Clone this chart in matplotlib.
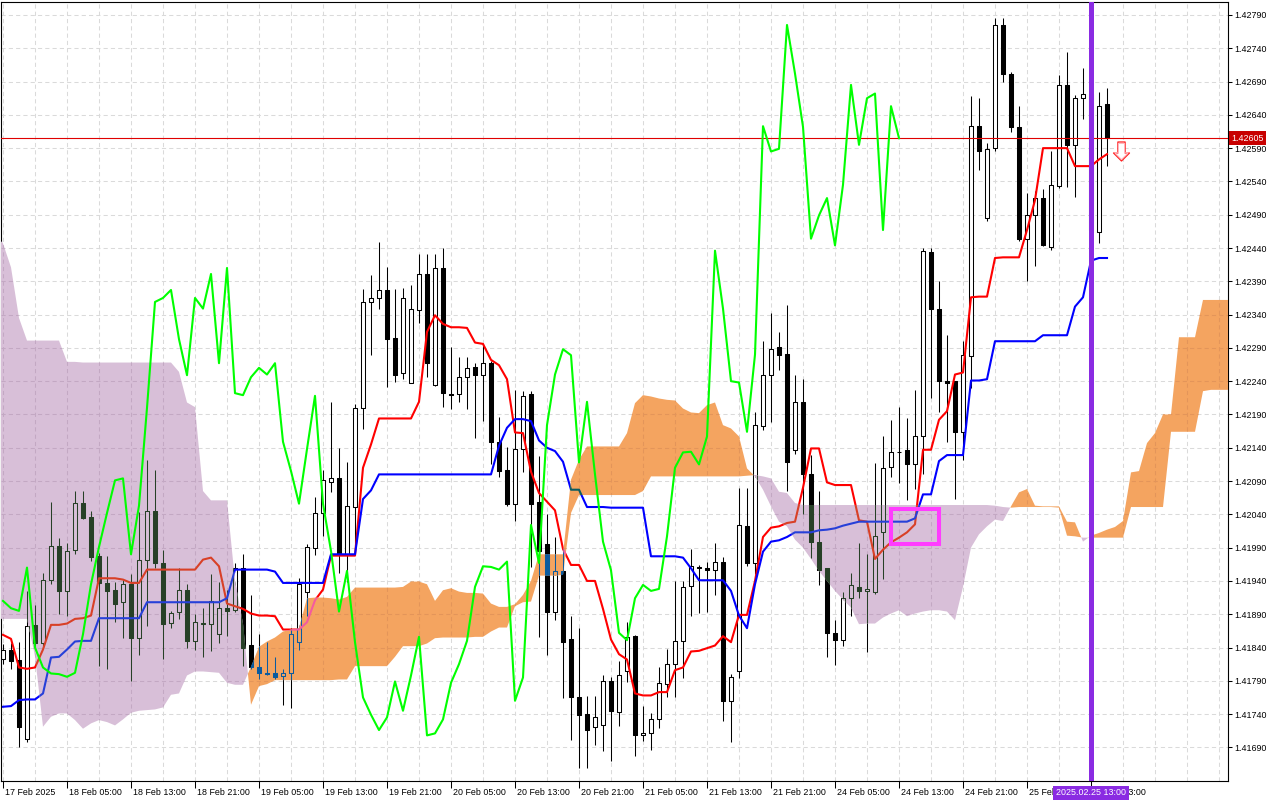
import numpy as np
import matplotlib
matplotlib.use('Agg')
import matplotlib.pyplot as plt
from matplotlib.collections import LineCollection, PolyCollection
from matplotlib.path import Path
from matplotlib.patches import Rectangle

plt.rcParams['font.family'] = ['Liberation Sans', 'DejaVu Sans']

# H1 candles, bar 0 = 17 Feb 21:00
opens = [
    1.41822, 1.41837, 1.41821, 1.41703, 1.41874, 1.41847, 1.41942, 1.41993, 1.41925, 1.41986,
    1.42057, 1.42036, 1.41977, 1.41937, 1.41926, 1.41908, 1.41935, 1.41855, 1.41972, 1.42045,
    1.41967, 1.41877, 1.41893, 1.41926, 1.41850, 1.41876, 1.41876, 1.41861, 1.41899, 1.41896,
    1.41959, 1.41844, 1.41811, 1.41801, 1.41802, 1.41797, 1.41801, 1.41848, 1.41924, 1.41990,
    1.42042, 1.42089, 1.42094, 1.41980, 1.42051, 1.42200, 1.42359, 1.42365, 1.42377, 1.42305,
    1.42252, 1.42237, 1.42347, 1.42401, 1.42235, 1.42410, 1.42220, 1.42220, 1.42246, 1.42262,
    1.42250, 1.42267, 1.42148, 1.42106, 1.42056, 1.42138, 1.42220, 1.42059, 1.41996, 1.41893,
    1.41955, 1.41853, 1.41765, 1.41740, 1.41720, 1.41723, 1.41789, 1.41743, 1.41804, 1.41857,
    1.41708, 1.41711, 1.41732, 1.41785, 1.41815, 1.41850, 1.41932, 1.41960, 1.41959, 1.41957,
    1.41969, 1.41760, 1.41804, 1.42022, 1.41967, 1.42172, 1.42250, 1.42291, 1.42281, 1.42136,
    1.42209, 1.42100, 1.41999, 1.41959, 1.41862, 1.41851, 1.41915, 1.41931, 1.41925, 1.41924,
    1.42013, 1.42111, 1.42133, 1.42136, 1.42115, 1.42157, 1.42434, 1.42348, 1.42240, 1.42240,
    1.42164, 1.42278, 1.42623, 1.42485, 1.42590, 1.42775, 1.42702, 1.42622, 1.42454, 1.42489,
    1.42515, 1.42442, 1.42533, 1.42685, 1.42595, 1.42665, 1.42672, 1.42464, 1.42656]
highs = [
    1.41845, 1.41847, 1.41848, 1.41925, 1.41904, 1.41952, 1.42058, 1.42004, 1.41997, 1.42075,
    1.42075, 1.42045, 1.41982, 1.41977, 1.41939, 1.41942, 1.41950, 1.42043, 1.42122, 1.42107,
    1.41986, 1.41895, 1.41959, 1.41935, 1.41890, 1.41899, 1.41950, 1.41939, 1.41926, 1.41967,
    1.41981, 1.41919, 1.41860, 1.41849, 1.41825, 1.41807, 1.41870, 1.41945, 1.41995, 1.42066,
    1.42106, 1.42208, 1.42140, 1.42119, 1.42206, 1.42378, 1.42400, 1.42449, 1.42411, 1.42379,
    1.42380, 1.42384, 1.42431, 1.42431, 1.42431, 1.42440, 1.42291, 1.42276, 1.42276, 1.42267,
    1.42296, 1.42270, 1.42186, 1.42141, 1.42227, 1.42226, 1.42225, 1.42127, 1.42040, 1.42006,
    1.41990, 1.41888, 1.41870, 1.41767, 1.41767, 1.41798, 1.41795, 1.41819, 1.41878, 1.41859,
    1.41752, 1.41741, 1.41810, 1.41838, 1.41940, 1.41940, 1.41988, 1.41964, 1.41969, 1.41997,
    1.41976, 1.41800, 1.42080, 1.42080, 1.42193, 1.42300, 1.42343, 1.42314, 1.42354, 1.42249,
    1.42243, 1.42129, 1.42075, 1.41959, 1.41882, 1.41924, 1.41952, 1.41997, 1.41981, 1.42117,
    1.42158, 1.42182, 1.42201, 1.42185, 1.42227, 1.42440, 1.42440, 1.42391, 1.42310, 1.42240,
    1.42301, 1.42669, 1.42666, 1.42598, 1.42785, 1.42785, 1.42705, 1.42653, 1.42523, 1.42525,
    1.42529, 1.42585, 1.42700, 1.42735, 1.42670, 1.42711, 1.42680, 1.42674, 1.42681]
lows = [
    1.41815, 1.41807, 1.41690, 1.41698, 1.41840, 1.41840, 1.41935, 1.41891, 1.41888, 1.41981,
    1.42033, 1.41970, 1.41812, 1.41807, 1.41878, 1.41855, 1.41789, 1.41828, 1.41873, 1.41960,
    1.41822, 1.41870, 1.41883, 1.41840, 1.41837, 1.41825, 1.41835, 1.41847, 1.41858, 1.41893,
    1.41812, 1.41807, 1.41792, 1.41798, 1.41792, 1.41754, 1.41749, 1.41837, 1.41888, 1.41979,
    1.42008, 1.42074, 1.41952, 1.41939, 1.41987, 1.42168, 1.42279, 1.42348, 1.42231, 1.42239,
    1.42244, 1.42237, 1.42328, 1.42247, 1.42233, 1.42201, 1.42198, 1.42208, 1.42198, 1.42154,
    1.42180, 1.42115, 1.42096, 1.42052, 1.42030, 1.42104, 1.41961, 1.41856, 1.41829, 1.41882,
    1.41764, 1.41701, 1.41659, 1.41659, 1.41693, 1.41685, 1.41669, 1.41722, 1.41788, 1.41677,
    1.41699, 1.41686, 1.41719, 1.41765, 1.41765, 1.41794, 1.41887, 1.41892, 1.41894, 1.41919,
    1.41730, 1.41698, 1.41794, 1.41962, 1.41951, 1.42166, 1.42178, 1.42257, 1.42075, 1.42130,
    1.42040, 1.41975, 1.41934, 1.41826, 1.41814, 1.41843, 1.41888, 1.41914, 1.41833, 1.41920,
    1.41943, 1.42096, 1.42087, 1.42062, 1.42078, 1.42100, 1.42215, 1.42193, 1.42148, 1.42063,
    1.42121, 1.42230, 1.42557, 1.42480, 1.42585, 1.42690, 1.42615, 1.42450, 1.42391, 1.42413,
    1.42443, 1.42437, 1.42530, 1.42531, 1.42516, 1.42634, 1.42445, 1.42447, 1.42563]
closes = [
    1.41837, 1.41820, 1.41720, 1.41872, 1.41847, 1.41942, 1.41993, 1.41925, 1.41985, 1.42057,
    1.42035, 1.41976, 1.41937, 1.41925, 1.41906, 1.41935, 1.41854, 1.41972, 1.42045, 1.41967,
    1.41876, 1.41892, 1.41926, 1.41850, 1.41878, 1.41877, 1.41910, 1.41899, 1.41895, 1.41960,
    1.41840, 1.41810, 1.41801, 1.41800, 1.41796, 1.41802, 1.41860, 1.41935, 1.41991, 1.42042,
    1.42091, 1.42094, 1.41980, 1.42053, 1.42200, 1.42359, 1.42365, 1.42377, 1.42303, 1.42249,
    1.42365, 1.42349, 1.42401, 1.42267, 1.42410, 1.42222, 1.42219, 1.42246, 1.42260, 1.42250,
    1.42267, 1.42149, 1.42105, 1.42056, 1.42138, 1.42218, 1.42056, 1.41985, 1.41894, 1.41955,
    1.41848, 1.41765, 1.41739, 1.41716, 1.41735, 1.41789, 1.41745, 1.41798, 1.41856, 1.41708,
    1.41711, 1.41732, 1.41787, 1.41815, 1.41850, 1.41931, 1.41962, 1.41961, 1.41957, 1.41969,
    1.41760, 1.41795, 1.42024, 1.41967, 1.42174, 1.42250, 1.42288, 1.42279, 1.42118, 1.42209,
    1.42100, 1.41999, 1.41956, 1.41862, 1.41851, 1.41914, 1.41934, 1.41925, 1.41928, 1.42007,
    1.42110, 1.42133, 1.42134, 1.42115, 1.42157, 1.42436, 1.42349, 1.42240, 1.42238, 1.42164,
    1.42280, 1.42623, 1.42585, 1.42589, 1.42775, 1.42702, 1.42622, 1.42454, 1.42489, 1.42515,
    1.42444, 1.42535, 1.42685, 1.42595, 1.42665, 1.42672, 1.42467, 1.42653, 1.42605]

tenkan = [
    1.41859, 1.41853, 1.41810, 1.41808, 1.41810, 1.41837, 1.41874, 1.41874, 1.41876, 1.41883,
    1.41884, 1.41888, 1.41944, 1.41944, 1.41944, 1.41942, 1.41937, 1.41937, 1.41957, 1.41957,
    1.41957, 1.41957, 1.41957, 1.41957, 1.41957, 1.41972, 1.41975, 1.41962, 1.41906, 1.41902,
    1.41898, 1.41891, 1.41888, 1.41888, 1.41887, 1.41867, 1.41867, 1.41867, 1.41878, 1.41911,
    1.41927, 1.41978, 1.41978, 1.41978, 1.41978, 1.42110, 1.42145, 1.42184, 1.42184, 1.42184,
    1.42184, 1.42184, 1.42209, 1.42314, 1.42339, 1.42326, 1.42321, 1.42321, 1.42320, 1.42298,
    1.42296, 1.42272, 1.42264, 1.42243, 1.42163, 1.42162, 1.42104, 1.42072, 1.42059, 1.42046,
    1.41988, 1.41964, 1.41964, 1.41940, 1.41940, 1.41898, 1.41852, 1.41830, 1.41822, 1.41771,
    1.41768, 1.41768, 1.41773, 1.41773, 1.41806, 1.41810, 1.41834, 1.41835, 1.41839, 1.41843,
    1.41857, 1.41848, 1.41889, 1.41889, 1.41940, 1.42006, 1.42020, 1.42022, 1.42027, 1.42029,
    1.42080, 1.42139, 1.42139, 1.42088, 1.42084, 1.42084, 1.42084, 1.42031, 1.42029, 1.41973,
    1.41987, 1.41998, 1.42005, 1.42013, 1.42025, 1.42137, 1.42137, 1.42182, 1.42195, 1.42250,
    1.42253, 1.42366, 1.42367, 1.42367, 1.42425, 1.42426, 1.42426, 1.42426, 1.42467, 1.42512,
    1.42590, 1.42590, 1.42590, 1.42590, 1.42563, 1.42563, 1.42563, 1.42573, 1.42581]
kijun = [
    1.41751, 1.41752, 1.41761, 1.41762, 1.41762, 1.41771, 1.41825, 1.41826, 1.41837, 1.41849,
    1.41850, 1.41850, 1.41884, 1.41884, 1.41884, 1.41884, 1.41884, 1.41884, 1.41908, 1.41908,
    1.41908, 1.41908, 1.41908, 1.41908, 1.41908, 1.41908, 1.41908, 1.41908, 1.41914, 1.41957,
    1.41957, 1.41957, 1.41957, 1.41957, 1.41954, 1.41937, 1.41937, 1.41937, 1.41937, 1.41937,
    1.41937, 1.41980, 1.41980, 1.41980, 1.41980, 1.42063, 1.42076, 1.42100, 1.42100, 1.42100,
    1.42100, 1.42100, 1.42100, 1.42100, 1.42100, 1.42100, 1.42100, 1.42100, 1.42100, 1.42100,
    1.42100, 1.42100, 1.42143, 1.42170, 1.42183, 1.42183, 1.42180, 1.42151, 1.42140, 1.42135,
    1.42119, 1.42077, 1.42077, 1.42051, 1.42051, 1.42051, 1.42050, 1.42050, 1.42050, 1.42050,
    1.42050, 1.41977, 1.41977, 1.41977, 1.41977, 1.41975, 1.41959, 1.41941, 1.41941, 1.41941,
    1.41941, 1.41925, 1.41888, 1.41869, 1.41935, 1.41984, 1.41999, 1.42001, 1.42006, 1.42013,
    1.42013, 1.42013, 1.42016, 1.42017, 1.42019, 1.42023, 1.42026, 1.42029, 1.42029, 1.42029,
    1.42029, 1.42029, 1.42029, 1.42029, 1.42034, 1.42070, 1.42070, 1.42120, 1.42129, 1.42129,
    1.42129, 1.42241, 1.42241, 1.42243, 1.42300, 1.42300, 1.42300, 1.42300, 1.42300, 1.42300,
    1.42309, 1.42309, 1.42309, 1.42309, 1.42352, 1.42366, 1.42421, 1.42425, 1.42425]

# senkou spans, first value is bar -1, last is bar 154
span_a = [
    1.41883,
    1.41883, 1.41883, 1.41883, 1.41883, 1.41827, 1.41721, 1.41736, 1.41741, 1.41741, 1.41731,
    1.41718, 1.41726, 1.41731, 1.41728, 1.41723, 1.41732, 1.41742, 1.41745, 1.41746, 1.41747,
    1.41750, 1.41769, 1.41771, 1.41798, 1.41804, 1.41804, 1.41803, 1.41802, 1.41787, 1.41784,
    1.41784, 1.41811, 1.41841, 1.41849, 1.41855, 1.41864, 1.41867, 1.41869, 1.41914, 1.41915,
    1.41915, 1.41914, 1.41912, 1.41916, 1.41930, 1.41930, 1.41930, 1.41930, 1.41930, 1.41930,
    1.41931, 1.41939, 1.41939, 1.41935, 1.41910, 1.41926, 1.41929, 1.41924, 1.41922, 1.41922,
    1.41921, 1.41906, 1.41901, 1.41901, 1.41905, 1.41919, 1.41940, 1.41980, 1.41980, 1.41980,
    1.41980, 1.42092, 1.42122, 1.42142, 1.42142, 1.42142, 1.42142, 1.42142, 1.42162, 1.42207,
    1.42219, 1.42217, 1.42214, 1.42212, 1.42211, 1.42199, 1.42193, 1.42192, 1.42204, 1.42208,
    1.42174, 1.42169, 1.42157, 1.42109, 1.42097, 1.42077, 1.42052, 1.42029, 1.42022, 1.42002,
    1.41990, 1.41973, 1.41955, 1.41940, 1.41925, 1.41912, 1.41900, 1.41875, 1.41876, 1.41876,
    1.41885, 1.41891, 1.41896, 1.41887, 1.41891, 1.41894, 1.41896, 1.41896, 1.41894, 1.41881,
    1.41931, 1.41990, 1.42010, 1.42022, 1.42032, 1.42030, 1.42052, 1.42073, 1.42078, 1.42053,
    1.42052, 1.42052, 1.42052, 1.42029, 1.42028, 1.41999, 1.42008, 1.42012, 1.42017, 1.42021,
    1.42030, 1.42103, 1.42105, 1.42147, 1.42162, 1.42190, 1.42190, 1.42306, 1.42306, 1.42306,
    1.42362, 1.42362, 1.42362, 1.42362, 1.42362]
span_b = [
    1.42460,
    1.42447, 1.42411, 1.42335, 1.42301, 1.42301, 1.42301, 1.42301, 1.42301, 1.42269, 1.42269,
    1.42268, 1.42268, 1.42268, 1.42268, 1.42268, 1.42268, 1.42268, 1.42268, 1.42268, 1.42268,
    1.42268, 1.42268, 1.42254, 1.42208, 1.42201, 1.42075, 1.42061, 1.42061, 1.42061, 1.41940,
    1.41876, 1.41754, 1.41782, 1.41785, 1.41791, 1.41791, 1.41791, 1.41791, 1.41791, 1.41791,
    1.41791, 1.41791, 1.41792, 1.41792, 1.41812, 1.41812, 1.41812, 1.41812, 1.41812, 1.41826,
    1.41842, 1.41842, 1.41842, 1.41846, 1.41854, 1.41855, 1.41855, 1.41855, 1.41855, 1.41856,
    1.41856, 1.41864, 1.41870, 1.41870, 1.41902, 1.41908, 1.41909, 1.41948, 1.41948, 1.41948,
    1.41949, 1.42042, 1.42069, 1.42069, 1.42069, 1.42069, 1.42069, 1.42069, 1.42069, 1.42069,
    1.42075, 1.42097, 1.42097, 1.42097, 1.42097, 1.42097, 1.42097, 1.42097, 1.42097, 1.42097,
    1.42097, 1.42097, 1.42097, 1.42098, 1.42099, 1.42097, 1.42094, 1.42074, 1.42072, 1.42057,
    1.42054, 1.42054, 1.42054, 1.42054, 1.42054, 1.42054, 1.42054, 1.42054, 1.42054, 1.42054,
    1.42054, 1.42054, 1.42054, 1.42054, 1.42054, 1.42054, 1.42054, 1.42054, 1.42054, 1.42054,
    1.42054, 1.42054, 1.42054, 1.42054, 1.42053, 1.42051, 1.42050, 1.42051, 1.42051, 1.42051,
    1.42051, 1.42051, 1.42050, 1.42008, 1.42007, 1.42005, 1.42005, 1.42005, 1.42005, 1.42005,
    1.42005, 1.42051, 1.42051, 1.42051, 1.42051, 1.42051, 1.42164, 1.42164, 1.42164, 1.42164,
    1.42225, 1.42227, 1.42227, 1.42227, 1.42227]

time_labels = ['17 Feb 2025', '18 Feb 05:00', '18 Feb 13:00', '18 Feb 21:00', '19 Feb 05:00',
               '19 Feb 13:00', '19 Feb 21:00', '20 Feb 05:00', '20 Feb 13:00', '20 Feb 21:00',
               '21 Feb 05:00', '21 Feb 13:00', '21 Feb 21:00', '24 Feb 05:00', '24 Feb 13:00',
               '24 Feb 21:00', '25 Feb 05:00', '25 Feb 13:00']
label_bars = list(range(0, 8 * len(time_labels), 8))

price_now = 1.42605
marker_bar = 136
marker_text = '2025.02.25 13:00'
box_bars = (111, 117)
box_prices = (1.41995, 1.42048)
arrow_bar = 139.75
arrow_price = 1.42585

assert len(opens) == len(highs) == len(lows) == len(closes) == len(tenkan) == len(kijun) == 139
assert len(span_a) == len(span_b) == 156

price_ticks = np.round(np.arange(1.41690, 1.42791, 0.0005), 5)
bars = np.arange(len(closes))
cloud_bars = np.arange(-1, len(span_a) - 1)
XLIM = (-0.25, 153.125)
YLIM = (1.416395, 1.428095)

normal_pal = dict(black='#000000', white='#FFFFFF', red='#FF0000', blue='#0000FF', grid='#DADADA')
thistle_pal = dict(black='#274027', white='#D8BFD8', red='#D84027', blue='#2740D8', grid='#C3A8C3')
orange_pal = dict(black='#0B5B9F', white='#F4A460', red='#F45B9F', blue='#0B5B60', grid='#E3955A')


def draw_layer(ax, pal, z, clip=None):
    xlo, xhi = XLIM
    ylo, yhi = YLIM
    segs = [[(xlo, p), (xhi, p)] for p in price_ticks]
    segs += [[(k, ylo), (k, yhi)] for k in range(0, int(xhi) + 1, 4)]
    grid = LineCollection(segs, colors=pal['grid'], linewidths=0.75,
                          linestyles=[(0, (4, 3))], zorder=z)
    wicks = LineCollection([[(k, l), (k, h)] for k, l, h in zip(bars, lows, highs)],
                           colors=pal['black'], linewidths=0.75, zorder=z + 0.1)
    half = 0.25
    rects, faces = [], []
    for k, o, c in zip(bars, opens, closes):
        lo, hi = min(o, c), max(o, c)
        rects.append([(k - half, lo), (k + half, lo), (k + half, hi), (k - half, hi)])
        faces.append(pal['white'] if c >= o else pal['black'])
    bodies = PolyCollection(rects, facecolors=faces, edgecolors=pal['black'],
                            linewidths=0.75, zorder=z + 0.2)
    arts = [ax.add_collection(grid), ax.add_collection(wicks), ax.add_collection(bodies)]
    arts += ax.plot(bars, tenkan, color=pal['red'], lw=1.5, zorder=z + 0.3)
    arts += ax.plot(bars, kijun, color=pal['blue'], lw=1.5, zorder=z + 0.3)
    if clip is not None:
        for a in arts:
            a.set_clip_path(clip, ax.transData)


fig = plt.figure(figsize=(12.8, 8), dpi=100)
ax = fig.add_axes([1 / 1280, 19 / 800, 1227 / 1280, 779 / 800])

draw_layer(ax, normal_pal, 2)

a = np.array(span_a)
b = np.array(span_b)
up = ax.fill_between(cloud_bars, a, b, where=a >= b, interpolate=True,
                     color='#F4A460', lw=0, zorder=4)
dn = ax.fill_between(cloud_bars, a, b, where=a < b, interpolate=True,
                     color='#D8BFD8', lw=0, zorder=4)
draw_layer(ax, orange_pal, 5, Path.make_compound_path(*up.get_paths()))
draw_layer(ax, thistle_pal, 5, Path.make_compound_path(*dn.get_paths()))

# chikou span: closes shifted back 26 bars
ax.plot(bars[:-26], closes[26:], color='#00FF00', lw=1.5, zorder=10)

ax.axhline(price_now, color='#E00000', lw=0.8, zorder=9)
ax.axvline(marker_bar, color='#8A2BE2', lw=3.6, zorder=14)
ax.add_patch(Rectangle((box_bars[0], box_prices[0]), box_bars[1] - box_bars[0],
                       box_prices[1] - box_prices[0], fill=False, ec='#FF3CFF',
                       lw=2.9, zorder=15))

arrow = Path([(-0.19, 0.5), (0.19, 0.5), (0.19, -0.08), (0.42, -0.08), (0, -0.5),
              (-0.42, -0.08), (-0.19, -0.08), (-0.19, 0.5)],
             [Path.MOVETO] + [Path.LINETO] * 6 + [Path.CLOSEPOLY])
ax.plot([arrow_bar], [arrow_price], marker=arrow, ms=13.7, mfc='white',
        mec='#FF2020', mew=0.9, zorder=16)
ax.plot([arrow_bar], [arrow_price], marker=arrow, ms=11.5, mfc='none',
        mec='#FFB8C0', mew=0.7, zorder=16)

ax.set_xlim(XLIM)
ax.set_ylim(YLIM)

ax.yaxis.tick_right()
ax.set_yticks(price_ticks)
ax.set_yticklabels([f'{p:.5f}' for p in price_ticks])
ax.tick_params(axis='y', length=3, width=0.75, pad=1.2, labelsize=6.4, direction='out')
ax.set_xticks(label_bars)
ax.set_xticklabels([])
ax.tick_params(axis='x', length=5, width=0.75, direction='out')
for s in ax.spines.values():
    s.set_linewidth(0.8)
    s.set_color('black')

for k, lab in zip(label_bars, time_labels):
    ax.annotate(lab, xy=(k, 0), xycoords=('data', 'axes fraction'), xytext=(1.5, -8.6),
                textcoords='offset points', ha='left', va='center', fontsize=6.4,
                annotation_clip=False)

ax.annotate(marker_text, xy=(marker_bar, 0), xycoords=('data', 'axes fraction'),
            xytext=(0, -8.6), textcoords='offset points', ha='center', va='center',
            color='white', fontsize=6.4, annotation_clip=False, zorder=20,
            bbox=dict(boxstyle='square,pad=0.3', fc='#8A2BE2', ec='none'))
ax.annotate(f'{price_now:.5f}', xy=(1, price_now), xycoords=('axes fraction', 'data'),
            xytext=(2.2, 0), textcoords='offset points', ha='left', va='center',
            color='white', fontsize=6.4, annotation_clip=False, zorder=20,
            bbox=dict(boxstyle='square,pad=0.25', fc='#C80000', ec='none'))

fig.savefig('out.png', dpi=100)
